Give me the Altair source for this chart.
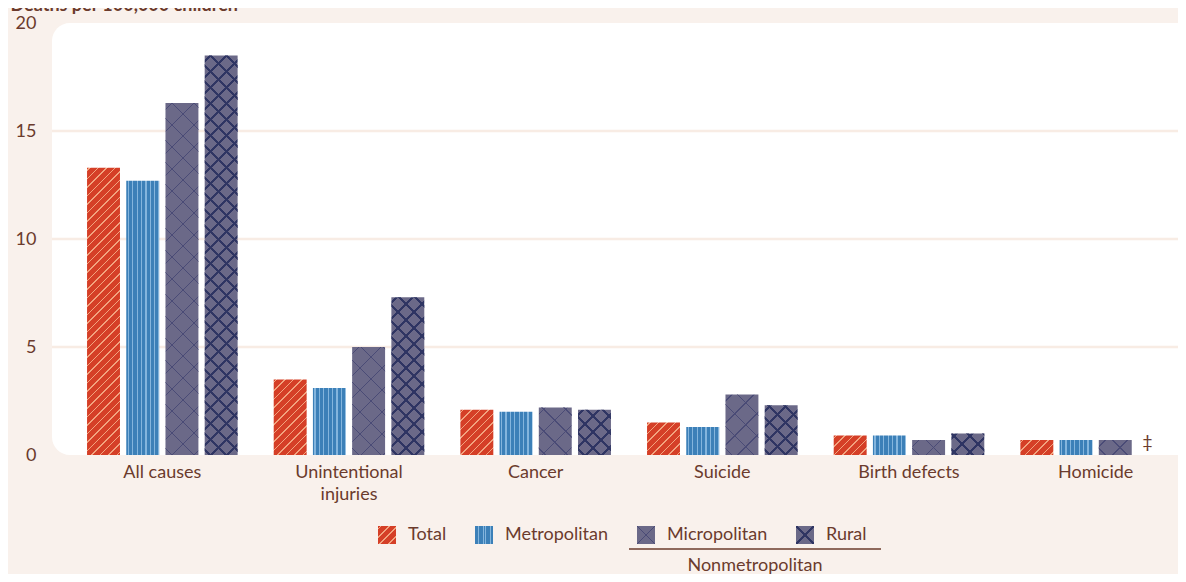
import altair as alt
import pandas as pd

# ---------------- data ----------------
causes = ["All causes", "Unintentional injuries", "Cancer", "Suicide", "Birth defects", "Homicide"]
series = ["Total", "Metropolitan", "Micropolitan", "Rural"]
total = [13.3, 3.5, 2.1, 1.5, 0.9, 0.7]
metro = [12.7, 3.1, 2.0, 1.3, 0.9, 0.7]
micro = [16.3, 5.0, 2.2, 2.8, 0.7, 0.7]
rural = [18.5, 7.3, 2.1, 2.3, 1.0, None]   # Homicide rural not shown (‡)
y_ticks = [0, 5, 10, 15, 20]
footnote_mark = "‡"
y_title = "Deaths per 100,000 children"
group_label = "Nonmetropolitan"

rows = []
for i, c in enumerate(causes):
    for s, vals in zip(series, [total, metro, micro, rural]):
        if vals[i] is None:
            continue
        rows.append({"cause": c, "series": s, "value": vals[i]})
df = pd.DataFrame(rows)
df["series2"] = df["series"] + " "
series2 = [s + " " for s in series]
note_df = pd.DataFrame([{"cause": "Homicide", "series": "Rural", "value": 0, "t": footnote_mark}])
ann_df = pd.DataFrame([{"t": group_label}])
grid_df = pd.DataFrame({"v": [t for t in y_ticks if 0 < t < max(y_ticks)]})

# ---------------- styles ----------------
BROWN = "#6b3b2d"
BG = "#f9f1ec"
GRID = "#f8ece4"
FONT = "Lato"
FS = 18
RED, RED_FG = "#d53f27", "#f2a37f"
BLUE, BLUE_FG = "#3c80b8", "#84b5dd"
PURPLE = "#6b6988"
RURAL_FG = "#2f3563"
MICRO_FG = "#4a4b76"
TRANSP = "rgba(0,0,0,0)"

L = 440.0  # gradient length in px (covers w + h of tallest bar)


def diag_stops(bg, fg, period, lw, length, phase=0.0):
    st = [(0.0, bg)]
    k = 0
    while True:
        a = phase + k * period
        if a > length:
            break
        b = a + lw
        st += [(a, bg), (a, fg), (b, fg), (b, bg)]
        k += 1
    return [(min(max(o / length, 0.0), 1.0), c) for o, c in st]


def stops_expr(st):
    return "[" + ",".join("{offset:%.5f,color:'%s'}" % (o, c) for o, c in st) + "]"


RP, RW = 16.0, 3.0     # rural lattice period / line width (px)
MP, MW = 22.0, 1.4     # micropolitan lattice
s_total = stops_expr(diag_stops(RED, RED_FG, 8.5, 1.6, L, 2.0))
s_metro = stops_expr(diag_stops(BLUE, BLUE_FG, 4.4 / 33 * L, 1.2 / 33 * L, L, 1.5 / 33 * L))
s_micro = stops_expr(diag_stops(PURPLE, MICRO_FG, MP, MW, L, 6.0))
s_rural = stops_expr(diag_stops(PURPLE, RURAL_FG, RP, RW, L, 4.0))
s_micro_t = stops_expr(diag_stops(TRANSP, MICRO_FG, MP, MW, L, 6.0))
s_rural_t = stops_expr(diag_stops(TRANSP, RURAL_FG, RP, RW, L, 4.0))
# legend swatches: one X per square
s_micro_leg = stops_expr(diag_stops(PURPLE, MICRO_FG, 40.0, 1.4, L, 17.3))
s_rural_leg = stops_expr(diag_stops(PURPLE, RURAL_FG, 40.0, 3.0, L, 16.5))
s_micro_leg_t = stops_expr(diag_stops(TRANSP, MICRO_FG, 40.0, 1.4, L, 17.3))
s_rural_leg_t = stops_expr(diag_stops(TRANSP, RURAL_FG, 40.0, 3.0, L, 16.5))


def slash(W, H, stops):
    D = f"({W}*{W}+{H}*{H})"
    return f"{{gradient:'linear',x1:0,y1:0,x2:{L}*{W}/{D},y2:{L}*{H}/{D},stops:{stops}}}"


def backslash(W, H, stops):
    D = f"({W}*{W}+{H}*{H})"
    return f"{{gradient:'linear',x1:0,y1:1,x2:{L}*{W}/{D},y2:1-{L}*{H}/{D},stops:{stops}}}"


metro_grad = f"{{gradient:'linear',x1:0,y1:0,x2:1,y2:0,stops:{s_metro}}}"

Wb = "bandwidth('xOffset')"
Hb = "(scale('y',0)-scale('y',datum.value))"
base_expr = (
    f"datum.series==='Total' ? {slash(Wb, Hb, s_total)} : "
    f"datum.series==='Metropolitan' ? {metro_grad} : "
    f"datum.series==='Micropolitan' ? {slash(Wb, Hb, s_micro)} : {slash(Wb, Hb, s_rural)}"
)
over_expr = (
    f"datum.series==='Micropolitan' ? {backslash(Wb, Hb, s_micro_t)} : "
    f"datum.series==='Rural' ? {backslash(Wb, Hb, s_rural_t)} : 'transparent'"
)

# legend swatch paints (18x18 squares)
leg_a_range = [{"expr": slash("18", "18", s_total)}, {"expr": metro_grad},
               {"expr": slash("18", "18", s_micro_leg)}, {"expr": slash("18", "18", s_rural_leg)}]
leg_b_range = ["transparent", "transparent",
               {"expr": backslash("18", "18", s_micro_leg_t)},
               {"expr": backslash("18", "18", s_rural_leg_t)}]

LEG_X, LEG_Y = 326, 503
leg_common = dict(
    orient="none", legendX=LEG_X, legendY=LEG_Y, direction="horizontal", columns=4,
    title=None, symbolType="square", symbolSize=324, symbolStrokeWidth=0,
    labelFont=FONT, labelFontSize=FS, labelColor=BROWN, labelOffset=12,
    columnPadding=28, padding=0, symbolOpacity=1,
)
legend_a = alt.Legend(**leg_common, labelOpacity=1)
legend_b = alt.Legend(**leg_common, labelOpacity=0, labelExpr="trim(datum.label)")

x_enc = alt.X(
    "cause:N", sort=causes,
    scale=alt.Scale(domain=causes, range=[17.0, 1137.0], paddingInner=0, paddingOuter=0),
    axis=alt.Axis(title=None, domain=False, ticks=False, labelAngle=0, labelPadding=8,
                  labelFont=FONT, labelFontSize=FS, labelColor=BROWN, labelLineHeight=22,
                  labelExpr="datum.value == 'Unintentional injuries' ? ['Unintentional', 'injuries'] : datum.value"),
)
xo_enc = alt.XOffset("series:N", sort=series,
                     scale=alt.Scale(domain=series, paddingInner=0.16, paddingOuter=0.46))
y_enc = alt.Y(
    "value:Q", scale=alt.Scale(domain=[0, 20], nice=False),
    axis=alt.Axis(values=y_ticks, title=y_title, titleAngle=0, titleAlign="left",
                  titleBaseline="alphabetic", titleX=-42, titleY=-13, titleFont=FONT,
                  titleFontSize=18, titleFontWeight="bold", titleColor=BROWN,
                  domain=False, ticks=False, grid=False, labelPadding=16, labelFont=FONT,
                  labelFontSize=FS, labelColor=BROWN),
)

panel = alt.Chart(ann_df).mark_rect(
    color="white", cornerRadiusTopLeft=18, cornerRadiusBottomLeft=18
).encode(x=alt.value(0), x2=alt.value(1200), y=alt.value(0), y2=alt.value(432))

grid = alt.Chart(grid_df).mark_rule(color=GRID, strokeWidth=2.5).encode(
    y=alt.Y("v:Q"), x=alt.value(0), x2=alt.value(1200))

bars = alt.Chart(df).mark_bar().encode(
    x=x_enc, xOffset=xo_enc, y=y_enc,
    fill=alt.value({"expr": base_expr}),
)

overlay = alt.Chart(df).transform_filter(
    "datum.series === 'Micropolitan' || datum.series === 'Rural'"
).mark_bar().encode(
    x=x_enc, xOffset=xo_enc, y=y_enc,
    fill=alt.value({"expr": over_expr}),
)

# legend carriers (no marks drawn: rows filtered out; domains are explicit)
legend_a_layer = alt.Chart(df).transform_filter("false").mark_square().encode(
    color=alt.Color("series:N", scale=alt.Scale(domain=series, range=leg_a_range), legend=legend_a),
)
legend_b_layer = alt.Chart(df).transform_filter("false").mark_square().encode(
    fill=alt.Fill("series2:N", scale=alt.Scale(domain=series2, range=leg_b_range), legend=legend_b),
)

note = alt.Chart(note_df).mark_text(
    font=FONT, fontSize=FS, color=BROWN, dy=-12, dx=-7
).encode(x=alt.X("cause:N", sort=causes), xOffset=alt.XOffset("series:N", sort=series),
         y=alt.Y("value:Q"), text="t:N")

rule = alt.Chart(ann_df).mark_rule(color=BROWN, strokeWidth=1.5).encode(
    x=alt.value(577), x2=alt.value(829), y=alt.value(526))
rule_text = alt.Chart(ann_df).mark_text(
    font=FONT, fontSize=FS, color=BROWN, align="center", baseline="alphabetic"
).encode(x=alt.value(703), y=alt.value(548), text="t:N")

chart = alt.layer(panel, grid, bars, overlay, legend_a_layer, legend_b_layer,
                  note, rule, rule_text).properties(
    width=1126, height=432,
    autosize=alt.AutoSizeParams(type="none"),
    padding={"left": 44, "top": 15, "right": 0, "bottom": 119},
    background=BG,
).configure_view(stroke="transparent")

chart.save("out.html", embed_options={"renderer": "svg", "actions": False})
